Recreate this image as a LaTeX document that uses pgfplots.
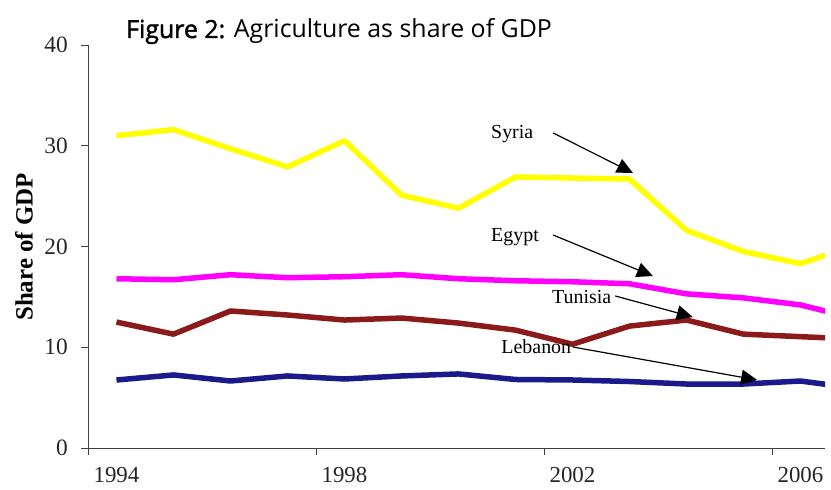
\documentclass[border=0pt]{standalone}
\usepackage{pgfplots}
\usepackage{pgfplotstable}
\pgfplotsset{compat=1.18}
\usetikzlibrary{arrows.meta}
\usepackage{fontspec}
\setmainfont{Liberation Serif}
\newfontfamily\titlefont{Open Sans}
\newfontfamily\titlesemi{Open Sans}[FakeBold=1.6]
\definecolor{syr}{RGB}{255,255,0}
\definecolor{egy}{RGB}{255,0,255}
\definecolor{tun}{RGB}{139,26,26}
\definecolor{leb}{RGB}{26,26,139}
\pgfplotstableread{
Year Syria Egypt Tunisia Lebanon
1994 31.0 16.8 12.5 6.75
1995 31.6 16.7 11.3 7.25
1996 29.7 17.2 13.6 6.65
1997 27.9 16.9 13.2 7.15
1998 30.5 17.0 12.7 6.85
1999 25.1 17.2 12.9 7.15
2000 23.8 16.8 12.4 7.35
2001 26.9 16.6 11.7 6.8
2002 26.8 16.5 10.3 6.75
2003 26.7 16.3 12.1 6.6
2004 21.6 15.3 12.7 6.35
2005 19.5 14.9 11.3 6.35
2006 18.3 14.2 11.05 6.65
2007 20.2 12.8 10.8 5.9
}\datatable
\begin{document}
\begin{tikzpicture}
\begin{axis}[
  scale only axis, width=737bp, height=403bp,
  xmin=1993.5, xmax=2006.43, ymin=0, ymax=40,
  axis lines*=left,
  axis line style={black!75, line width=0.8bp},
  tick style={black!75, line width=0.8bp},
  tick align=outside, major tick length=7bp,
  xtick={1993.5,1997.5,2001.5,2005.5},
  xticklabels={1994,1998,2002,2006},
  ytick={0,10,20,30,40},
  /pgf/number format/assume math mode=true,
  tick label style={font=\fontsize{23.5}{28}\selectfont, text=black!85},
  xticklabel style={xshift=28.5bp, anchor=north, inner sep=0pt, yshift=-12bp, font=\fontsize{23}{26}\selectfont},
  yticklabel style={anchor=east, inner sep=0pt, xshift=-13bp},
  ylabel={Share of GDP},
  ylabel style={font=\bfseries\fontsize{25}{30}\selectfont, at={(axis description cs:-0.0868,0.499)}, anchor=center},
  every axis plot/.append style={line width=5.5bp, line join=round, no marks},
]
\addplot[color=syr] table[x=Year, y=Syria] {\datatable};
\addplot[color=egy] table[x=Year, y=Egypt] {\datatable};
\addplot[color=tun] table[x=Year, y=Tunisia] {\datatable};
\addplot[color=leb] table[x=Year, y=Lebanon] {\datatable};

\begin{scope}[font=\fontsize{20}{24}\selectfont]
\node[anchor=base west, inner sep=0pt] at (axis cs:2000.57,30.67) {Syria};
\node[anchor=base west, inner sep=0pt] at (axis cs:2000.57,20.45) {Egypt};
\node[anchor=base west, inner sep=0pt] at (axis cs:2001.64,14.39) {Tunisia};
\node[anchor=base west, inner sep=0pt] at (axis cs:2000.75,9.33) {Lebanon};
\end{scope}
\begin{scope}[line width=1.2bp, -{Triangle[length=16bp,width=15bp]}]
\draw (axis cs:2001.66,31.27) -- (axis cs:2003.06,27.30);
\draw (axis cs:2001.66,21.14) -- (axis cs:2003.41,17.07);
\draw (axis cs:2002.75,15.09) -- (axis cs:2004.11,13.00);
\draw (axis cs:2002.01,10.02) -- (axis cs:2005.24,6.75);
\end{scope}
\end{axis}
\node[anchor=base west, inner sep=0pt, font=\titlefont\fontsize{25}{30}\selectfont] at (38bp,410bp) {{\titlesemi Figure 2:} Agriculture as share of GDP};
\pgfresetboundingbox
\path (-88bp,-42bp) rectangle (743bp,448bp);
\end{tikzpicture}
\end{document}
